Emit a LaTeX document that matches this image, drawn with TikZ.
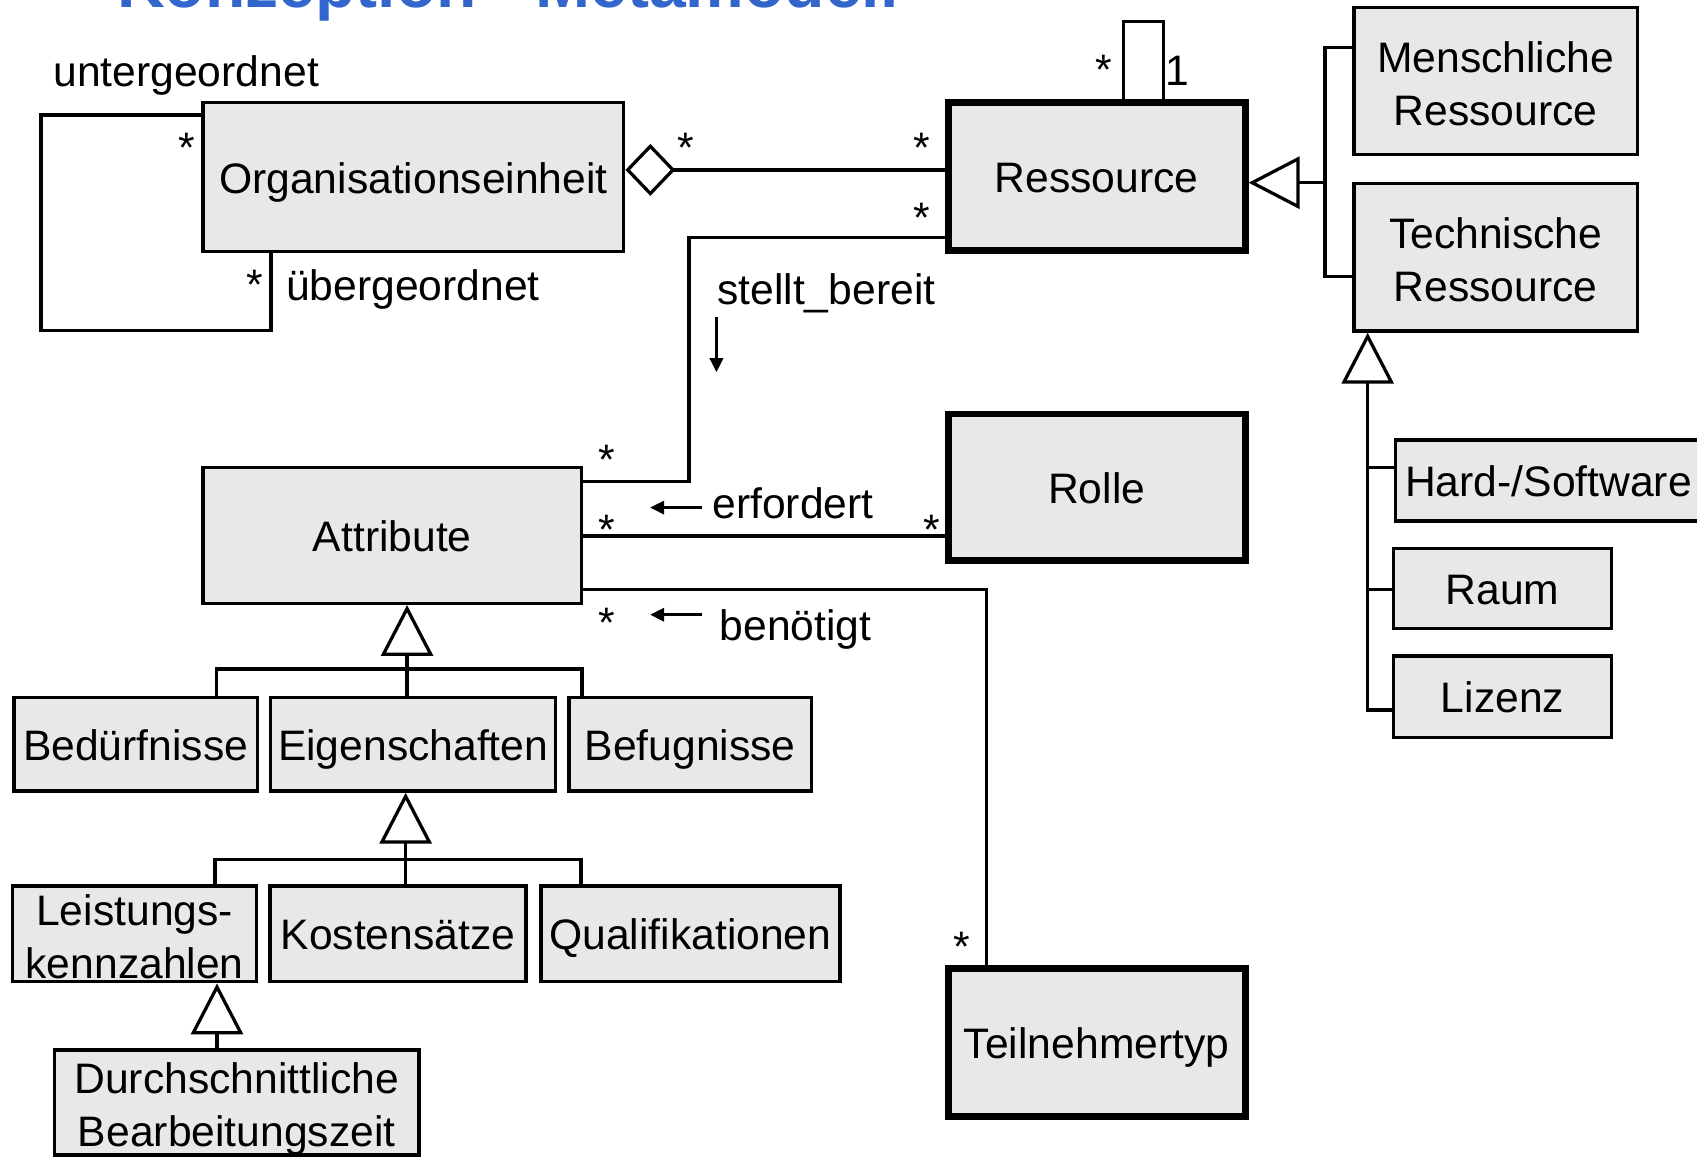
\documentclass[tikz,border=0pt]{standalone}
\usepackage{fontspec}
\setmainfont{Liberation Sans}
\usetikzlibrary{arrows.meta}
\definecolor{boxgray}{RGB}{232,232,232}
\definecolor{titleblue}{RGB}{51,102,204}

\begin{document}
\begin{tikzpicture}[x=0.5pt, y=-0.5pt,
  every node/.style={font=\fontsize{19.7pt}{24.5pt}\selectfont},
  cls/.style={draw, fill=boxgray, line width=1.6pt, inner sep=0pt, align=center,
              text height=16.2pt, text depth=1.5pt},
  twolines/.style={text height=41pt, text depth=0pt},
  thickcls/.style={cls, line width=3.2pt},
  conn/.style={line width=1.5pt, line join=miter},
  gen/.style={conn, -{Triangle[open, length=23.5pt, width=24pt]}},
  agg/.style={conn, {Diamond[open, length=23pt, width=24pt]}-},
  dirarrow/.style={line width=1.5pt, -{Triangle[length=6.5pt, width=6pt]}},
  mult/.style={anchor=base, inner sep=0pt},
  lbl/.style={anchor=base, inner sep=0pt}]

\useasboundingbox (0,0) rectangle (1568,1069);
\clip (0,0) rectangle (1568,1069);

% heading
\node[anchor=base west, inner sep=0pt, text=titleblue,
      font=\fontsize{30.5pt}{36pt}\selectfont\bfseries] (title) at (108,7) {Konzeption - Metamodell};

% classes
\node[cls, minimum width=194.3pt, minimum height=68.8pt] (orga) at (382,163.7) {Organisationseinheit};
\node[thickcls, minimum width=137.25pt, minimum height=68.75pt] (ress) at (1013.25,163.05) {Ressource};
\node[cls, twolines, minimum width=131pt, minimum height=67.9pt] (mensch) at (1382,74.7) {Menschliche\\Ressource};
\node[cls, twolines, minimum width=131pt, minimum height=68.25pt] (tech) at (1382,237.65) {Technische\\Ressource};
\node[cls, minimum width=175pt, minimum height=62.85pt] (attr) at (362.45,494.65) {Attribute};
\node[thickcls, minimum width=137.25pt, minimum height=67.6pt] (rolle) at (1013.25,450.1) {Rolle};
\node[thickcls, minimum width=137.25pt, minimum height=68.5pt] (teil) at (1013.25,963.3) {Teilnehmertyp};
\node[cls, minimum width=112.45pt, minimum height=43.3pt] (bed) at (125.35,687.6) {Bedürfnisse};
\node[cls, minimum width=131.65pt, minimum height=43.3pt] (eig) at (381.75,687.6) {Eigenschaften};
\node[cls, minimum width=111.9pt, minimum height=43.3pt] (bef) at (637.7,687.6) {Befugnisse};
\node[cls, twolines, minimum width=112.7pt, minimum height=44.2pt] (leist) at (124.4,862.9) {Leistungs-\\kennzahlen};
\node[cls, minimum width=118.3pt, minimum height=44.2pt] (kost) at (367.7,862.9) {Kostensätze};
\node[cls, minimum width=138.15pt, minimum height=44.2pt] (qual) at (637.85,862.9) {Qualifikationen};
\node[cls, twolines, minimum width=168.4pt, minimum height=48.5pt] (durch) at (218.8,1018.7) {Durchschnittliche\\Bearbeitungszeit};
\node[cls, minimum width=141.5pt, minimum height=37.4pt] (hw) at (1430.75,444) {Hard-/Software};
\node[cls, minimum width=100.9pt, minimum height=37pt] (raum) at (1388.3,543.6) {Raum};
\node[cls, minimum width=100.9pt, minimum height=37.7pt] (liz) at (1388.3,643.9) {Lizenz};

% associations
\draw[agg] (orga.east |- 0,157) -- (ress.west |- 0,157);
\draw[conn] (1038,0 |- ress.north) -- (1038,20) -- (1075,20) -- (1075,0 |- ress.north);
\draw[conn] (orga.west |- 0,106.3) -- (37.9,106.3) -- (37.9,305.5) -- (250.4,305.5) -- (250.4,0 |- orga.south);
\draw[conn] (ress.west |- 0,219.6) -- (636.6,219.6) -- (636.6,445) -- (attr.east |- 0,445);
\draw[conn] (attr.east |- 0,495.3) -- (rolle.west |- 0,495.3);
\draw[conn] (attr.east |- 0,544.5) -- (911.7,544.5) -- (911.7,0 |- teil.north);

% generalisations
\draw[conn] (mensch.west |- 0,44) -- (1224.3,44) -- (1224.3,255.7) -- (tech.west |- 0,255.7);
\draw[gen] (1224.3,168.8) -- (ress.east |- 0,168.8);
\draw[gen] (liz.west |- 0,656.1) -- (1263.7,656.1) -- (1263.7,0 |- tech.south);
\draw[conn] (1263.7,432.1) -- (hw.west |- 0,432.1);
\draw[conn] (1263.7,544.6) -- (raum.west |- 0,544.6);
\draw[conn] (200.2,0 |- bed.north) -- (200.2,618.2) -- (537.8,618.2) -- (537.8,0 |- bef.north);
\draw[gen] (376.1,0 |- eig.north) -- (376.1,0 |- attr.south);
\draw[conn] (198.7,0 |- leist.north) -- (198.7,794.3) -- (536.9,794.3) -- (536.9,0 |- qual.north);
\draw[gen] (374.8,0 |- kost.north) -- (374.8,0 |- eig.south);
\draw[gen] (200.5,0 |- durch.north) -- (200.5,0 |- leist.south);

% reading directions
\coordinate (sbFrom) at (662,293);   \coordinate (sbTo) at (662,344);
\coordinate (erfFrom) at (649,469);  \coordinate (erfTo) at (600.6,469);
\coordinate (benFrom) at (649,568);  \coordinate (benTo) at (600.6,568);
\draw[dirarrow] (sbFrom) -- (sbTo);
\draw[dirarrow] (erfFrom) -- (erfTo);
\draw[dirarrow] (benFrom) -- (benTo);

% role names and association names
\node[lbl] (lunter) at (172,80) {untergeordnet};
\node[lbl] (lueber) at (381.5,278) {übergeordnet};
\node[lbl] (lstellt) at (763.5,281) {stellt\_bereit};
\node[lbl] (lerf) at (732.7,479) {erfordert};
\node[lbl] (lben) at (735,592) {benötigt};

% multiplicities
\node[mult] (m1) at (173,150) {*};
\node[mult] (m2) at (235,277) {*};
\node[mult] (m3) at (634,150) {*};
\node[mult] (m4) at (852,150) {*};
\node[mult] (m5) at (852,215) {*};
\node[mult] (m6) at (1020,78) {*};
\node[mult] (m7) at (1088,79) {1};
\node[mult] (m8) at (561,438) {*};
\node[mult] (m9) at (561,503) {*};
\node[mult] (m10) at (861,503) {*};
\node[mult] (m11) at (561,589) {*};
\node[mult] (m12) at (889,888) {*};
\end{tikzpicture}
\end{document}
